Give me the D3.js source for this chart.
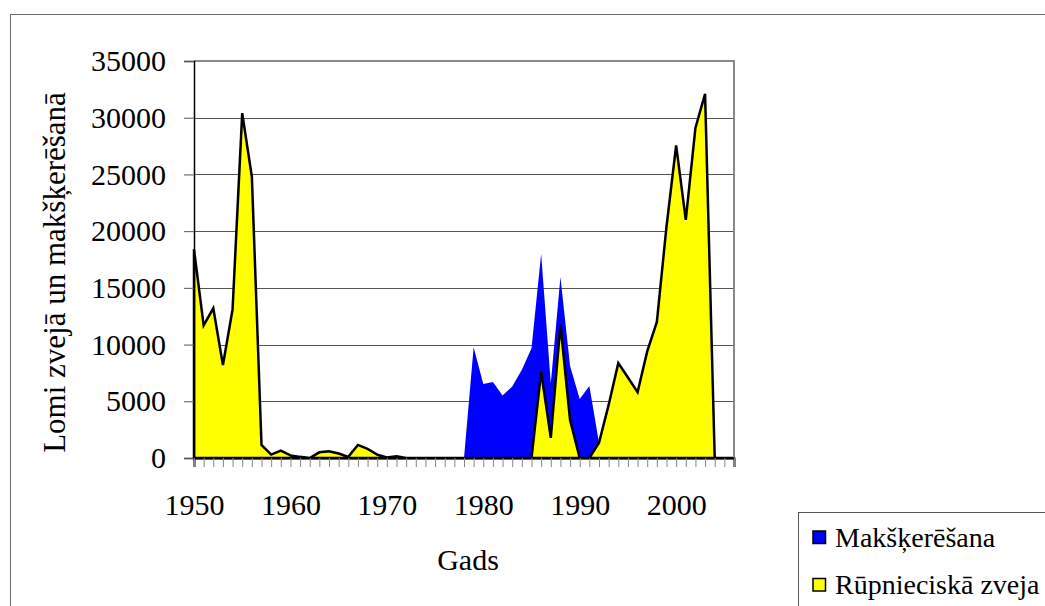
<!DOCTYPE html>
<html>
<head>
<meta charset="utf-8">
<script src="https://cdn.jsdelivr.net/npm/d3@7"></script>
<style>
  html, body { margin: 0; padding: 0; background: #fff; }
  svg { display: block; }
</style>
</head>
<body>
<script>
// ---- data ----
const years = d3.range(1950, 2007);
const commercial = [
  18400, 11700, 13200, 8200, 13100, 30400, 24800, 1150, 300, 650,
  230, 100, 0, 500, 600, 400, 100, 1150, 800, 300,
  50, 150, 0, 0, 0, 0, 0, 0, 0, 0,
  0, 0, 0, 0, 0, 0, 7600, 1770, 11750, 3350,
  0, 0, 1350, 4680, 8360, 7100, 5800, 9400, 12000, 20400,
  27560, 21000, 29100, 32100, 0, 0, 0
];
const recreational = [
  0, 0, 0, 0, 0, 0, 0, 0, 0, 0,
  0, 0, 0, 0, 0, 0, 0, 0, 0, 0,
  0, 0, 0, 0, 0, 0, 0, 0, 0, 9770,
  6530, 6700, 5500, 6300, 7770, 9680, 10400, 4830, 4200, 4750,
  5200, 6350, 0, 0, 0, 0, 0, 0, 0, 0,
  0, 0, 0, 0, 0, 0, 0
];
const yTicks = [0, 5000, 10000, 15000, 20000, 25000, 30000, 35000];
const xLabelYears = [1950, 1960, 1970, 1980, 1990, 2000];
const seriesNames = ["Makšķerēšana", "Rūpnieciskā zveja"];
const yTitle = "Lomi zvejā un makšķerēšanā";
const xTitle = "Gads";

// ---- layout ----
const W = 1045, H = 606;
const pL = 194, pR = 734, pT = 61, pB = 458;
const FONT = "'Liberation Serif', 'Times New Roman', Times, 'DejaVu Serif', serif";

const svg = d3.select("body").append("svg").attr("width", W).attr("height", H)
  .style("font-family", FONT);

// outer chart border
svg.append("rect").attr("x", 10.5).attr("y", 14.5).attr("width", 1200).attr("height", 800)
  .attr("fill", "none").attr("stroke", "#6b6b6b").attr("stroke-width", 1);

const x = d3.scalePoint().domain(years).range([pL, pR]);
const y = d3.scaleLinear().domain([0, 35000]).range([pB, pT]);

// gridlines
svg.append("g").selectAll("line").data(yTicks.filter(d => d > 0 && d < 35000)).join("line")
  .attr("x1", pL).attr("x2", pR)
  .attr("y1", d => Math.round(y(d)) + 0.5).attr("y2", d => Math.round(y(d)) + 0.5)
  .attr("stroke", "#555").attr("stroke-width", 1);

// stacked areas
const table = years.map((yr, i) => ({ year: yr, commercial: commercial[i], recreational: recreational[i] }));
const stack = d3.stack().keys(["commercial", "recreational"]);
const layers = stack(table);

const area = d3.area()
  .x(d => x(d.data.year))
  .y0(d => y(d[0]))
  .y1(d => y(d[1]));

// recreational (blue) band on top
svg.append("path").datum(layers[1]).attr("d", area)
  .attr("fill", "#0000ff").attr("stroke", "none");

// commercial (yellow) with black outline
svg.append("path").datum(layers[0]).attr("d", d => area(d) + "Z")
  .attr("fill", "#ffff00").attr("stroke", "#000").attr("stroke-width", 2.5)
  .attr("stroke-linejoin", "miter");

// plot area border (top & right)
svg.append("path")
  .attr("d", `M${pL},${pT} H${pR} V${pB}`)
  .attr("fill", "none").attr("stroke", "#8a8a8a").attr("stroke-width", 2);

// y axis
const yAxis = d3.axisLeft(y).tickValues(yTicks).tickSize(10).tickPadding(18).tickFormat(d3.format("d"));
const gy = svg.append("g").attr("transform", `translate(${pL},0)`).call(yAxis)
  .attr("font-family", FONT).attr("font-size", 30);
gy.select(".domain").attr("stroke", "#000").attr("stroke-width", 1.5);
gy.selectAll(".tick line").attr("stroke", "#555");
gy.selectAll(".tick text").style("font-family", FONT).style("font-size", "30px").attr("fill", "#000");

// x axis
const xAxis = d3.axisBottom(x).tickSize(9).tickFormat(d => xLabelYears.includes(d) ? d : "").tickPadding(10);
const gx = svg.append("g").attr("transform", `translate(0,${pB})`).call(xAxis)
  .attr("font-family", FONT).attr("font-size", 30);
gx.select(".domain").attr("stroke", "#000").attr("stroke-width", 2);
gx.selectAll(".tick line").attr("stroke", "#888");
gx.selectAll(".tick text").style("font-family", FONT).style("font-size", "30px").attr("fill", "#000")
  .attr("dy", null).attr("y", 57);

// axis titles
svg.append("text").attr("x", 468).attr("y", 570).attr("text-anchor", "middle")
  .style("font-family", FONT).style("font-size", "30px").text(xTitle);
svg.append("text").attr("transform", "translate(65,272.5) rotate(-90)").attr("text-anchor", "middle")
  .style("font-family", FONT).style("font-size", "31px").text(yTitle);

// legend
const lg = svg.append("g");
lg.append("rect").attr("x", 798.5).attr("y", 512.5).attr("width", 400).attr("height", 200)
  .attr("fill", "#fff").attr("stroke", "#555").attr("stroke-width", 1);
const colors = ["#0000ff", "#ffff00"];
const rowY = [546.5, 594];
seriesNames.forEach((name, i) => {
  lg.append("rect").attr("x", 813).attr("y", rowY[i] - 15.5).attr("width", 12.5).attr("height", 12.5)
    .attr("fill", colors[i]).attr("stroke", "#000").attr("stroke-width", 1.5);
  lg.append("text").attr("x", 835).attr("y", rowY[i])
    .style("font-family", FONT).style("font-size", "28px").text(name);
});
</script>
</body>
</html>
